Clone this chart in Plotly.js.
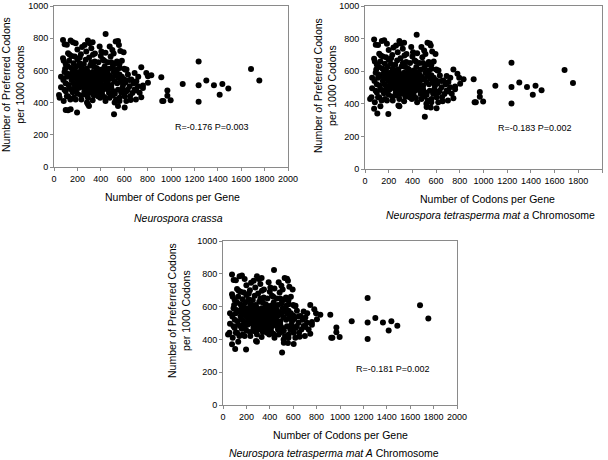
<!DOCTYPE html>
<html>
<head>
<meta charset="utf-8">
<script src="https://cdn.plot.ly/plotly-3.0.1.min.js"></script>
<style>html,body{margin:0;padding:0;background:#fff;}#chart{width:608px;height:460px;}</style>
</head>
<body>
<div id="chart"></div>
<script>
// Data: [number of codons per gene, number of preferred codons per 1000 codons]
const crassaPoints = [
  [77,789],[91,762],[110,760],[142,785],[162,775],[185,768],[200,730],[240,745],[262,758],[290,785],
  [305,768],[276,717],[319,738],[330,775],[390,748],[441,826],[405,717],[476,748],[499,727],[527,779],
  [547,783],[555,758],[567,721],[595,713],[120,707],[134,697],[230,700],[350,705],[440,710],[510,705],
  [77,676],[83,660],[177,686],[168,645],[219,645],[271,666],[333,697],[348,656],[419,666],[433,625],
  [484,686],[538,656],[612,604],[148,615],[177,604],[234,615],[248,594],[362,615],[447,594],[561,615],
  [746,619],[100,640],[130,660],[200,670],[255,640],[300,680],[310,630],[380,650],[410,605],[460,650],
  [500,620],[520,640],[580,660],[600,610],[150,690],[190,625],[280,610],[340,625],[400,690],[470,610],
  [540,605],[120,625],[220,680],[260,605],[320,650],[370,610],[430,660],[490,650],[560,640],[95,610],[620,605],
  [60,560],[80,540],[90,590],[100,520],[110,560],[115,580],[125,510],[140,570],[150,540],[160,590],
  [165,520],[170,555],[180,580],[185,505],[195,545],[200,570],[210,530],[215,590],[225,510],[230,550],
  [235,575],[240,530],[245,595],[250,515],[255,560],[262,522],[265,580],[270,540],[275,505],[280,565],
  [285,595],[290,525],[295,550],[300,580],[305,510],[310,540],[315,570],[319,563],[325,530],[330,590],
  [335,505],[340,555],[345,575],[348,533],[355,520],[360,545],[365,590],[370,510],[375,565],[380,535],
  [385,580],[390,584],[395,520],[400,555],[405,540],[410,575],[419,543],[425,510],[430,590],[440,560],
  [447,533],[455,520],[460,580],[470,545],[480,565],[490,510],[500,550],[510,590],[518,533],[525,570],
  [533,584],[540,520],[550,555],[560,575],[570,530],[580,560],[590,510],[600,545],[610,525],[632,574],
  [645,540],[661,543],[689,584],[704,533],[720,560],[789,584],[803,563],[832,570],[803,523],[760,506],[680,520],
  [43,447],[48,430],[83,410],[100,470],[110,440],[120,440],[140,420],[150,480],[168,430],[177,492],
  [185,471],[185,420],[200,455],[210,490],[234,420],[248,496],[262,451],[275,480],[282,400],[290,430],
  [300,460],[310,490],[327,471],[340,445],[350,485],[362,492],[376,440],[385,470],[395,430],[400,495],
  [410,455],[420,480],[430,435],[461,481],[470,460],[476,430],[490,490],[500,445],[510,470],[518,400],
  [530,420],[547,480],[561,430],[575,461],[585,490],[595,461],[604,440],[618,410],[630,480],[646,502],
  [655,416],[670,460],[689,481],[704,475],[718,502],[732,461],[746,434],[760,490],[700,420],[650,440],
  [560,410],[440,410],[330,415],[230,445],[160,465],[90,480],[60,495],[130,490],[260,470],[350,455],
  [450,495],[520,455],[620,470],
  [100,354],[142,359],[197,338],[299,379],[513,328],[547,379],[604,369],[120,352],[290,390],
  [917,557],[925,410],[935,410],[969,443],[969,475],[997,414],[1100,516],[1236,656],[1236,508],[1236,406],
  [1302,537],[1367,508],[1416,449],[1439,516],[1490,488],[1684,609],[1755,537]
];

const tetraPoints = [
  [77,795],[91,762],[110,760],[142,785],[162,790],[185,768],[200,730],[240,745],[262,758],[290,785],
  [305,768],[276,717],[319,738],[330,775],[390,748],[436,823],[405,717],[476,748],[499,727],[527,775],
  [547,770],[555,758],[567,721],[595,705],[120,707],[134,697],[230,700],[350,705],[440,710],[510,705],
  [77,676],[83,660],[177,686],[168,645],[219,645],[271,666],[333,697],[348,656],[419,666],[433,625],
  [484,686],[538,656],[612,604],[148,615],[177,604],[234,615],[248,594],[362,615],[447,594],[561,615],
  [746,610],[100,640],[130,660],[200,670],[255,640],[300,680],[310,630],[380,650],[410,605],[460,650],
  [500,620],[520,640],[580,660],[600,610],[150,690],[190,625],[280,610],[340,625],[400,690],[470,610],
  [540,605],[120,625],[220,680],[260,605],[320,650],[370,610],[430,660],[490,650],[560,640],[95,610],[620,605],
  [60,560],[80,540],[90,590],[100,520],[110,560],[115,580],[125,510],[140,570],[150,540],[160,590],
  [165,520],[170,555],[180,580],[185,505],[195,545],[200,570],[210,530],[215,590],[225,510],[230,550],
  [235,575],[240,530],[245,595],[250,515],[255,560],[262,522],[265,580],[270,540],[275,505],[280,565],
  [285,595],[290,525],[295,550],[300,580],[305,510],[310,540],[315,570],[319,563],[325,530],[330,590],
  [335,505],[340,555],[345,575],[348,533],[355,520],[360,545],[365,590],[370,510],[375,565],[380,535],
  [385,580],[390,584],[395,520],[400,555],[405,540],[410,575],[419,543],[425,510],[430,590],[440,560],
  [447,533],[455,520],[460,580],[470,545],[480,565],[490,510],[500,550],[510,590],[518,533],[525,570],
  [533,584],[540,520],[550,555],[560,575],[570,530],[580,560],[590,510],[600,545],[610,525],[632,574],
  [645,540],[661,543],[689,570],[704,533],[720,560],[780,584],[795,560],[832,550],[803,523],[760,506],[680,520],
  [43,430],[55,440],[83,410],[100,470],[110,440],[120,440],[140,420],[150,480],[168,430],[177,492],
  [185,471],[185,420],[200,455],[210,490],[234,420],[248,496],[262,451],[275,480],[282,390],[290,430],
  [300,460],[310,490],[327,471],[340,445],[350,485],[362,492],[376,440],[385,470],[395,430],[400,495],
  [410,455],[420,480],[430,435],[461,481],[470,460],[476,430],[490,490],[500,445],[510,470],[518,400],
  [530,420],[547,480],[561,430],[575,461],[585,490],[595,461],[604,440],[618,410],[630,480],[646,502],
  [655,416],[670,460],[689,481],[704,475],[718,502],[732,461],[746,434],[760,490],[700,420],[650,440],
  [560,410],[440,410],[330,415],[230,445],[160,465],[90,480],[60,495],[130,490],[260,470],[350,455],
  [450,495],[520,455],[620,470],
  [77,370],[104,341],[197,338],[290,385],[505,320],[520,380],[555,378],[604,372],[130,385],
  [917,550],[925,410],[935,410],[969,443],[969,472],[997,414],[1100,510],[1236,652],[1236,503],[1236,402],
  [1302,530],[1367,503],[1416,455],[1439,510],[1490,483],[1684,608],[1755,527]
];

const panelTitles = ["<i>Neurospora crassa</i>",
                     "<i>Neurospora tetrasperma mat a</i> Chromosome",
                     "<i>Neurospora tetrasperma mat A</i> Chromosome"];
const yTitles = ["Number of Preferred Codons<br>per 1000 codons",
                 "Number of Preferred Codons<br>per 1000 Codons",
                 "Number of Preferred Codons<br>per 1000 Codons"];
const statLabels = ["R=-0.176 P=0.003", "R=-0.183 P=0.002", "R=-0.181 P=0.002"];
const xTitle = "Number of Codons per Gene";

const W = 608, H = 460;
const px = v => v / W;
const py = v => 1 - v / H;

function trace(points, xa, ya) {
  return {
    type: 'scatter', mode: 'markers',
    x: points.map(p => p[0]), y: points.map(p => p[1]),
    xaxis: xa, yaxis: ya,
    marker: {color: '#000', size: 6, line: {width: 0}},
    hoverinfo: 'skip', cliponaxis: false
  };
}

const data = [
  trace(crassaPoints, 'x', 'y'),
  trace(tetraPoints, 'x2', 'y2'),
  trace(tetraPoints, 'x3', 'y3')
];

const axisBase = {
  showgrid: false, zeroline: false, showline: true, mirror: true,
  linecolor: '#8a8a8a', linewidth: 1, ticks: 'outside', ticklen: 3,
  tickcolor: '#8a8a8a', tickfont: {size: 9, color: '#000'}, fixedrange: true
};
const xAx = (dom, anchor) => Object.assign({}, axisBase, {domain: dom, range: [0, 2000], dtick: 200, tick0: 0, anchor: anchor});
const yAx = (dom, anchor) => Object.assign({}, axisBase, {domain: dom, range: [0, 1000], dtick: 200, tick0: 0, anchor: anchor});

const panels = [
  {l: 54, r: 288, t: 6, b: 167, xt: 172, xty: 197, st: 178, sty: 218, yt: 13, yty: 85, rx: 1350, ry: 250},
  {l: 365, r: 602, t: 6, b: 169, xt: 487, xty: 199, st: 490, sty: 215, yt: 325, yty: 86, rx: 1435, ry: 250},
  {l: 223, r: 457, t: 241, b: 405, xt: 340, xty: 435, st: 334, sty: 453, yt: 179, yty: 311, rx: 1450, ry: 220}
];

const layout = {
  width: W, height: H,
  margin: {l: 0, r: 0, t: 0, b: 0},
  paper_bgcolor: '#fff', plot_bgcolor: '#fff',
  showlegend: false,
  font: {family: 'Liberation Sans, Arial, sans-serif', size: 9, color: '#000'},
  annotations: []
};

panels.forEach((p, i) => {
  const s = i === 0 ? '' : String(i + 1);
  layout['xaxis' + s] = xAx([px(p.l), px(p.r)], 'y' + s);
  layout['yaxis' + s] = yAx([py(p.b), py(p.t)], 'x' + s);
  layout.annotations.push(
    {xref: 'paper', yref: 'paper', x: px(p.xt), y: py(p.xty), text: xTitle, showarrow: false,
     xanchor: 'center', yanchor: 'middle', font: {size: 10.5}},
    {xref: 'paper', yref: 'paper', x: px(p.st), y: py(p.sty), text: panelTitles[i], showarrow: false,
     xanchor: 'center', yanchor: 'middle', font: {size: 10.5}},
    {xref: 'paper', yref: 'paper', x: px(p.yt), y: py(p.yty), text: yTitles[i], showarrow: false,
     textangle: -90, xanchor: 'center', yanchor: 'middle', font: {size: 10.5}},
    {xref: 'x' + s, yref: 'y' + s, x: p.rx, y: p.ry, text: statLabels[i], showarrow: false,
     xanchor: 'center', yanchor: 'middle', font: {size: 9}}
  );
});

Plotly.newPlot('chart', data, layout, {staticPlot: true, displayModeBar: false});
</script>
</body>
</html>
